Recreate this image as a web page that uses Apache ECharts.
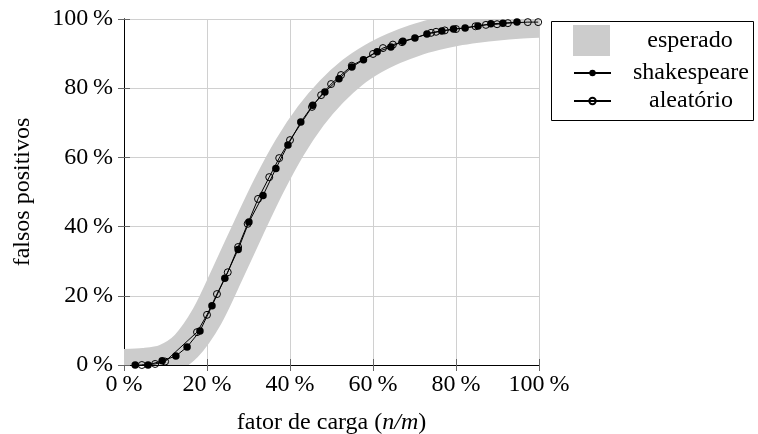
<!DOCTYPE html>
<html>
<head>
<meta charset="utf-8">
<script src="https://cdn.jsdelivr.net/npm/echarts@6/dist/echarts.min.js"></script>
<style>
  html, body { margin: 0; padding: 0; background: #fff; }
  #box { width: 758px; height: 434px; }
</style>
</head>
<body>
<div id="box"></div>
<script>
// valores (em %)
var xTicks = [0, 20, 40, 60, 80, 100];
var yTicks = [0, 20, 40, 60, 80, 100];

var esperadoX = [0, 5, 10, 15, 20, 25, 30, 35, 40, 45, 50, 55, 60, 65, 70, 75, 80, 85, 90, 95, 100];
var esperadoY = [0, 0.3, 1.5, 5.5, 14, 26.5, 39.5, 52, 63, 72, 79, 84.5, 88.5, 91.5, 93.8, 95.5, 96.8, 97.7, 98.4, 98.9, 99.2];

var shakespeareX = [2.7, 5.8, 9.2, 12.5, 15.2, 18.3, 21.2, 24.3, 27.5, 30.1, 33.5, 36.6, 39.5, 42.6, 45.5, 48.4,
    51.8, 54.9, 57.7, 61.0, 64.3, 67.2, 70.1, 73.0, 76.6, 79.4, 82.2, 85.3, 88.4, 91.3, 94.7];
var shakespeareY = [0, 0, 1.2, 2.6, 5.2, 9.8, 17.1, 25.1, 33.4, 41.3, 49.0, 56.8, 63.6, 70.2, 75.1, 78.9,
    82.7, 86.1, 88.2, 90.5, 91.9, 93.6, 94.5, 95.7, 96.5, 97.1, 97.4, 98.0, 98.6, 98.8, 99.1];

var aleatorioX = [4.3, 7.5, 9.9, 17.6, 20.0, 22.4, 25.0, 27.5, 29.8, 32.3, 35.0, 37.4, 40.0, 45.3, 47.5, 49.9,
    52.3, 54.9, 60.0, 62.4, 64.8, 67.0, 74.0, 75.2, 77.3, 80.0, 84.7, 87.2, 89.9, 92.5, 97.3, 99.8];
var aleatorioY = [0, 0.3, 1.0, 9.5, 14.5, 20.5, 26.8, 34.1, 40.8, 48.0, 54.3, 59.8, 65.0, 74.6, 78.0, 81.2,
    83.8, 86.5, 89.9, 91.6, 92.6, 93.3, 96.0, 96.3, 96.7, 97.1, 97.9, 98.3, 98.5, 98.8, 99.1, 99.1];

window.onload = function () {
    var myChart = echarts.init(document.getElementById("box"), null, { renderer: 'canvas' });
    var FONT = 'Liberation Serif';

    function zip(xs, ys) {
        return xs.map(function (x, i) { return [x, ys[i]]; });
    }

    function pct(v) {
        return v + '\u2009%';
    }

    var tickStyle = { show: true, inside: true, length: 6, lineStyle: { color: '#666', width: 1 } };
    var lineStyle = { show: true, lineStyle: { color: '#000', width: 1 } };
    var gridLine = { show: true, lineStyle: { color: '#d0d0d0', width: 1 } };
    var richText = {
        t: { width: 150, align: 'center', fontFamily: FONT, fontSize: 24, color: '#000' }
    };

    var option = {
        animation: false,
        backgroundColor: '#fff',
        textStyle: { fontFamily: FONT },
        grid: { left: 124, right: 219, top: 19, bottom: 69, containLabel: false, outerBoundsMode: 'none' },
        xAxis: [{
            type: 'value', min: xTicks[0], max: xTicks[xTicks.length - 1], interval: 20,
            position: 'bottom',
            axisLine: lineStyle, axisTick: tickStyle,
            axisLabel: { margin: 8, color: '#000', fontFamily: FONT, fontSize: 24, formatter: pct },
            splitLine: gridLine,
            name: 'fator de carga ({i|n/m})',
            nameLocation: 'middle', nameGap: 46,
            nameTextStyle: {
                fontFamily: FONT, fontSize: 24, color: '#000',
                rich: { i: { fontFamily: FONT, fontSize: 24, fontStyle: 'italic', color: '#000' } }
            }
        }, {
            type: 'value', min: xTicks[0], max: xTicks[xTicks.length - 1], interval: 20,
            position: 'top',
            axisLine: lineStyle, axisTick: tickStyle,
            axisLabel: { show: false }, splitLine: { show: false }
        }],
        yAxis: [{
            type: 'value', min: yTicks[0], max: yTicks[yTicks.length - 1], interval: 20,
            position: 'left',
            axisLine: lineStyle, axisTick: tickStyle,
            axisLabel: { margin: 11, color: '#000', fontFamily: FONT, fontSize: 24, formatter: pct },
            splitLine: gridLine,
            name: 'falsos positivos',
            nameLocation: 'middle', nameGap: 89,
            nameTextStyle: { fontFamily: FONT, fontSize: 24, color: '#000' }
        }, {
            type: 'value', min: yTicks[0], max: yTicks[yTicks.length - 1], interval: 20,
            position: 'right',
            axisLine: lineStyle, axisTick: tickStyle,
            axisLabel: { show: false }, splitLine: { show: false }
        }],
        legend: [{
            data: [{ name: 'esperado', icon: 'rect' }],
            left: 573, top: 25, padding: 0,
            itemWidth: 37, itemHeight: 31, textGap: 5,
            selectedMode: false,
            formatter: '{t|{name}}',
            textStyle: { fontFamily: FONT, fontSize: 24, rich: richText }
        }, {
            data: ['shakespeare', 'aleatório'],
            orient: 'vertical',
            left: 573, top: 61, padding: 0,
            itemWidth: 37, itemHeight: 8, itemGap: 4, textGap: 5,
            selectedMode: false,
            formatter: '{t|{name}}',
            textStyle: { fontFamily: FONT, fontSize: 24, rich: richText }
        }],
        graphic: [{
            type: 'rect',
            shape: { x: 551.5, y: 21.5, width: 202, height: 99 },
            style: { fill: 'rgba(0,0,0,0)', stroke: '#000', lineWidth: 1 },
            silent: true
        }],
        series: [{
            // faixa cinza: curva esperada desenhada como traço grosso, recortada pela área do gráfico
            name: 'esperado',
            type: 'custom',
            clip: true,
            z: 1,
            itemStyle: { color: '#cccccc' },
            data: [[0, 0]],
            renderItem: function (params, api) {
                var pts = esperadoX.map(function (x, i) {
                    return api.coord([x, esperadoY[i]]);
                });
                return {
                    type: 'polyline',
                    shape: { points: pts, smooth: 0.3 },
                    style: { stroke: '#cccccc', lineWidth: 32, fill: null, lineCap: 'butt', lineJoin: 'round' },
                    silent: true
                };
            }
        }, {
            name: 'shakespeare',
            type: 'line',
            z: 3,
            data: zip(shakespeareX, shakespeareY),
            symbol: 'circle',
            symbolSize: 7.5,
            showAllSymbol: true,
            itemStyle: { color: '#000' },
            lineStyle: { color: '#000', width: 1 }
        }, {
            name: 'aleatório',
            type: 'line',
            z: 4,
            data: zip(aleatorioX, aleatorioY),
            symbol: 'circle',
            symbolSize: 7,
            showAllSymbol: true,
            itemStyle: { color: 'rgba(255,255,255,0)', borderColor: '#000', borderWidth: 1 },
            lineStyle: { color: '#000', width: 1 }
        }]
    };
    myChart.setOption(option);
};
</script>
</body>
</html>
